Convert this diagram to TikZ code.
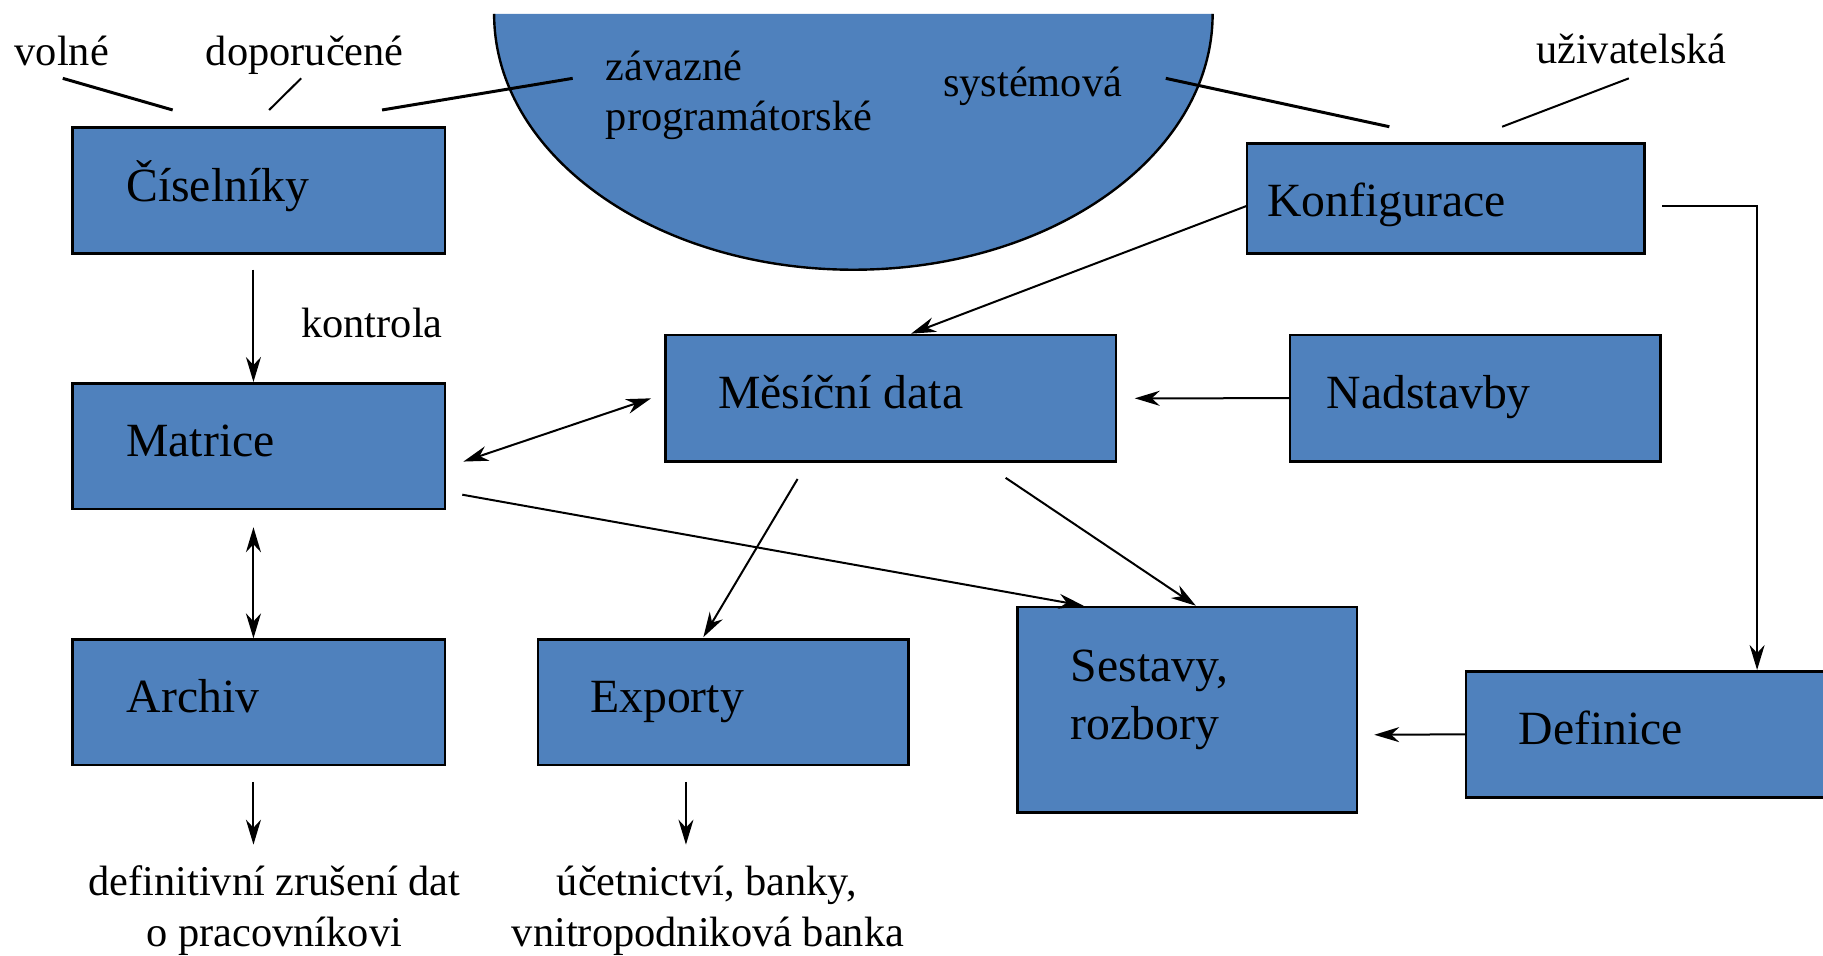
\documentclass[tikz,border=0pt]{standalone}
\usepackage{fontspec}
\setmainfont{Liberation Serif}
\usetikzlibrary{arrows.meta,fit,calc}
\definecolor{boxblue}{RGB}{79,129,189}
\begin{document}
\begin{tikzpicture}[x=1.1626pt,y=-1.1626pt,
  box/.style={draw=black,line width=2.6pt,fill=boxblue,inner sep=0pt,rectangle},
  big/.style={inner sep=0pt,anchor=base west,font=\fontsize{47.7pt}{56pt}\selectfont},
  small/.style={inner sep=0pt,anchor=base west,font=\fontsize{42.4pt}{50pt}\selectfont},
  smallc/.style={small,anchor=base},
  arr/.style={line width=2pt,-{Stealth[length=25pt,width=15pt,inset=8pt]}},
  darr/.style={line width=2pt,{Stealth[length=25pt,width=15pt,inset=8pt]}-{Stealth[length=25pt,width=15pt,inset=8pt]}},
  thick line/.style={line width=3pt}]
\useasboundingbox (0,0) rectangle (1568,822);
\clip (0,0) rectangle (1568,822);
% half ellipse
\fill[boxblue] (425,12) arc[start angle=180,end angle=0,x radius=309,y radius=220] -- cycle;
\draw[line width=2.4pt] (425,12) arc[start angle=180,end angle=0,x radius=309,y radius=220];
% boxes
\node[box,fit={(62.5,109.5) (382.6,218)}] (cis) {};
\node[box,fit={(62.5,329.7) (382.6,437.8)}] (mat) {};
\node[box,fit={(62.5,550.2) (382.6,658)}] (arch) {};
\node[box,fit={(462.6,550.2) (781.5,658)}] (exp) {};
\node[box,fit={(572.6,288) (960,397)}] (mes) {};
\node[box,fit={(1109.6,288) (1428,397)}] (nad) {};
\node[box,fit={(1072.6,123.3) (1414.7,218)}] (kon) {};
\node[box,fit={(875,522) (1167,699)}] (ses) {};
\node[box,fit={(1261,577.4) (1600,685.8)}] (def) {};
% box texts
\node[big] (cist) at (108.5,173.5) {Číselníky};
\node[big] (matt) at (108.5,393) {Matrice};
\node[big] (archt) at (109,613) {Archiv};
\node[big] (expt) at (507.5,613) {Exporty};
\node[big] (mest) at (617.6,351) {Měsíční data};
\node[big] (nadt) at (1141,351) {Nadstavby};
\node[big] (kont) at (1090,186.5) {Konfigurace};
\node[big] (sest1) at (921,586) {Sestavy,};
\node[big] (sest2) at (921,636) {rozbory};
\node[big] (deft) at (1306,640.5) {Definice};
% small labels
\node[small] (lvol) at (12.5,56) {volné};
\node[small] (ldop) at (177,56) {doporučené};
\node[small] (lzav1) at (521,69) {závazné};
\node[small] (lzav2) at (521,112) {programátorské};
\node[small] (lsys) at (811,83) {systémová};
\node[small] (luzi) at (1321,54.5) {uživatelská};
\node[small] (lkon) at (259,290) {kontrola};
\node[smallc] (ldef1) at (236,770.6) {definitivní zrušení dat};
\node[smallc] (ldef2) at (236,813.7) {o pracovníkovi};
\node[smallc] (luct1) at (608,770.6) {účetnictví, banky,};
\node[smallc] (luct2) at (609,813.7) {vnitropodniková banka};
% plain label lines
\coordinate (v1) at (54,67.4);      \coordinate (v2) at (148.5,94.6);
\coordinate (d1) at (259,67.4);     \coordinate (d2) at (231.5,94.6);
\coordinate (z1) at (492.6,67.4);   \coordinate (z2) at (328.6,94.6);
\coordinate (s1) at (1002.7,67.4);  \coordinate (s2) at (1195,109);
\coordinate (u1) at (1401,67.4);    \coordinate (u2) at (1292,109);
\draw[thick line] (v1) -- (v2);
\draw[line width=2pt] (d1) -- (d2);
\draw[thick line] (z1) -- (z2);
\draw[thick line] (s1) -- (s2);
\draw[line width=2pt] (u1) -- (u2);
% arrow end points
\coordinate (c1) at (218,232);
\coordinate (m1) at (398.6,397);    \coordinate (m2) at (560,342.6);
\coordinate (m3) at (397.6,425.5);  \coordinate (m4) at (932,521);
\coordinate (e1) at (686,412);      \coordinate (e2) at (605,548);
\coordinate (e3) at (865,411);      \coordinate (e4) at (1028.6,521);
\coordinate (k1) at (1072.6,177);   \coordinate (k2) at (783.6,287);
\coordinate (n1) at (976,342.6);
\coordinate (k3) at (1429.6,177.2); \coordinate (k4) at (1511.3,177.2);
\coordinate (f1) at (1182,632);
\coordinate (a1) at (218,453.5);
\coordinate (a2) at (218,672.6);    \coordinate (a3) at (218,726.5);
\coordinate (x2) at (590,672.6);    \coordinate (x3) at (590,726.5);
% arrows
\draw[arr] (c1) -- (c1 |- mat.north);
\draw[darr] (m1) -- (m2);
\draw[arr] (m3) -- (m4);
\draw[arr] (e1) -- (e2);
\draw[arr] (e3) -- (e4);
\draw[arr] (k1) -- (k2);
\draw[arr] (nad.west) -- (n1);
\draw[arr] (k3) -- (k4) -- (k4 |- def.north);
\draw[arr] (def.west) -- (f1);
\draw[darr] (a1) -- (a1 |- arch.north);
\draw[arr] (a2) -- (a3);
\draw[arr] (x2) -- (x3);
\end{tikzpicture}
\end{document}
